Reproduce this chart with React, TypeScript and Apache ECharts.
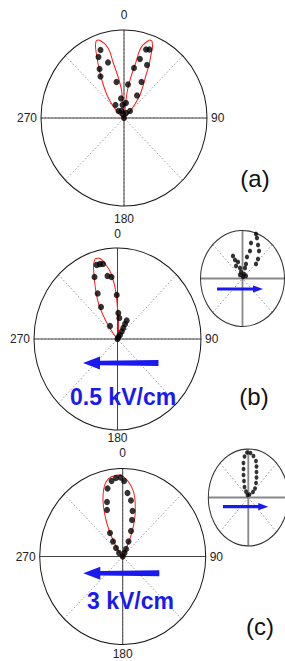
import React, { useEffect, useRef } from "react";
import * as echarts from "echarts";

// ---------- data: [radius (0..1), angle (deg, clockwise from top)] ----------
const ANGLE_TICK_LABELS = ["0", "90", "180", "270"];

const A_DOTS = [
  [0.823, 339.9], [0.758, 336.1], [0.66, 343.0], [0.63, 332.1], [0.55, 329.0], [0.419, 347.5],
  [0.225, 350.7], [0.18, 325.3], [0.149, 353.0], [0.104, 320.2], [0.085, 339.3], [0.047, 345],
  [0.822, 18.8], [0.837, 21.5], [0.698, 16.0], [0.663, 24.7], [0.581, 12.0], [0.46, 27.3],
  [0.384, 7.2], [0.3, 31.5], [0.172, 8.0], [0.108, 42.3], [0.062, 23], [0, 0],
];
const A_FIT_LEFT = [
  [0.938, 338.9], [0.887, 337.2], [0.789, 335.2], [0.677, 332.8], [0.565, 329.9], [0.45, 326.4],
  [0.332, 321.9], [0.217, 317.0], [0.133, 313.3], [0.059, 305.3], [0, 330], [0.091, 356.2],
  [0.205, 354.9], [0.32, 354.6], [0.436, 352.1], [0.531, 350.2], [0.65, 348.2], [0.769, 347.3],
  [0.857, 345.3], [0.918, 342.4], [0.94, 340.5], [0.938, 338.9],
];
const A_FIT_RIGHT = [
  [0.938, 21.1], [0.887, 22.8], [0.786, 24.4], [0.673, 26.6], [0.556, 28.5], [0.441, 31.8],
  [0.325, 36.4], [0.207, 39.8], [0.124, 42.8], [0.05, 46.6], [0, 30], [0.092, 7.5],
  [0.206, 6.7], [0.321, 7.6], [0.438, 9.5], [0.533, 11.1], [0.653, 12.8], [0.772, 13.5],
  [0.861, 15.4], [0.922, 18.3], [0.94, 19.5], [0.938, 21.1],
];

const B_DOTS = [
  [0.851, 343.0], [0.85, 345.7], [0.842, 348.1], [0.735, 338.0], [0.703, 350.2], [0.685, 354.0],
  [0.553, 334.6], [0.484, 358.9], [0.403, 330.7], [0.286, 1.9], [0.232, 5.3], [0.231, 28.5],
  [0.188, 28.6], [0.169, 327.9], [0.139, 29.9], [0.097, 31.4], [0.053, 34.3], [0.024, 23.6], [0, 0],
];
const B_FIT = [
  [0.92, 343.0], [0.863, 340.5], [0.758, 338.2], [0.652, 335.6], [0.545, 332.5], [0.434, 329.3],
  [0.316, 326.6], [0.191, 323.5], [0.085, 320.7], [0, 0], [0.1, 6.9], [0.209, 3.3],
  [0.341, 0], [0.451, 358.5], [0.572, 357.0], [0.673, 354.9], [0.753, 353.1], [0.825, 350.4],
  [0.888, 347.9], [0.919, 345.7], [0.92, 343.0],
];
const B_INSET_DOTS = [
  [0.981, 19.1], [0.912, 22.2], [0.767, 15.3], [0.79, 27.9], [0.6, 17.3], [0.695, 34.4],
  [0.461, 13.4], [0.549, 42.2], [0.441, 46.8], [0.313, 15.4], [0.521, 334.2], [0.425, 335.1],
  [0.36, 342.7], [0.303, 329.3], [0.227, 344.8], [0.227, 15.2], [0.14, 345.2], [0.1, 20.8],
  [0.094, 320.8], [0.034, 20.8], [0.098, 58],
];

const C_DOTS = [
  [0.869, 351.1], [0.896, 354.8], [0.898, 358.3], [0.858, 1.1], [0.794, 346.7], [0.724, 4.6],
  [0.648, 343.0], [0.644, 8.9], [0.561, 340.3], [0.53, 12.9], [0.43, 15.1], [0.308, 330.2],
  [0.307, 19.0], [0.207, 325.6], [0.184, 22.3], [0.126, 320.1], [0.094, 25.0], [0.06, 312],
  [0.045, 28.6], [0, 0],
];
const C_FIT = [
  [0.929, 355.8], [0.914, 351.1], [0.87, 346.6], [0.79, 343.0], [0.685, 339.7], [0.574, 336.9],
  [0.461, 334.1], [0.343, 331.3], [0.221, 328.1], [0.106, 323.7], [0, 0], [0.094, 25.0],
  [0.205, 23.6], [0.323, 21.4], [0.439, 18.9], [0.55, 16.0], [0.659, 13.0], [0.745, 10.1],
  [0.818, 6.6], [0.882, 2.6], [0.921, 359.1], [0.929, 355.8],
];
const C_INSET_DOTS = [
  [0.928, 358], [0.919, 3.4], [0.866, 8.6], [0.851, 353.6], [0.721, 350.4], [0.6, 348.5],
  [0.479, 345.5], [0.357, 342.5], [0.236, 336.3], [0.777, 14.3], [0.671, 17.8], [0.564, 21.3],
  [0.461, 26.4], [0.356, 32.8], [0.25, 42.1], [0.163, 46.0], [0.136, 335.1], [0.055, 338.8],
  [0.069, 25.9],
];

const PANEL_LABELS = ["(a)", "(b)", "(c)"];
const FIELD_LABELS = ["0.5 kV/cm", "3 kV/cm"];

// ---------- layout ----------
const W = 285;
const H = 661;
const FONT = '"Liberation Sans", Arial, sans-serif';
const BLUE = "#1a1af0";
const LABEL_KEYS = ["t", "r", "b", "l"];

type PanelCfg = {
  cx: number; cy: number; rx: number; ry: number;
  labels: boolean; lhTop: number; lhBottom: number;
  crossColor: string; crossWidth: number; circleColor: string;
  dotSize: number; dots: number[][]; fits: number[][][];
};

const PANELS: PanelCfg[] = [
  { cx: 124, cy: 118, rx: 83, ry: 88, labels: true, lhTop: 20, lhBottom: 16.5, crossColor: "#444", crossWidth: 1, circleColor: "#1a1a1a", dotSize: 6, dots: A_DOTS, fits: [A_FIT_LEFT, A_FIT_RIGHT] },
  { cx: 117.5, cy: 339, rx: 83.5, ry: 91, labels: true, lhTop: 18.6, lhBottom: 6.7, crossColor: "#444", crossWidth: 1, circleColor: "#1a1a1a", dotSize: 6, dots: B_DOTS, fits: [B_FIT] },
  { cx: 122.7, cy: 556.5, rx: 83, ry: 88, labels: true, lhTop: 21, lhBottom: 9, crossColor: "#444", crossWidth: 1, circleColor: "#1a1a1a", dotSize: 6, dots: C_DOTS, fits: [C_FIT] },
  { cx: 242.5, cy: 278.5, rx: 42, ry: 48, labels: false, lhTop: 14, lhBottom: 14, crossColor: "#888", crossWidth: 1.8, circleColor: "#333", dotSize: 4.2, dots: B_INSET_DOTS, fits: [] },
  { cx: 248.3, cy: 497.5, rx: 40, ry: 48.5, labels: false, lhTop: 14, lhBottom: 14, crossColor: "#888", crossWidth: 1.8, circleColor: "#333", dotSize: 3.8, dots: C_INSET_DOTS, fits: [] },
];

function hiddenRadius(polarIndex: number) {
  return {
    polarIndex, type: "value", min: 0, max: 1,
    axisLine: { show: false }, axisTick: { show: false }, axisLabel: { show: false },
    splitLine: { show: false }, splitArea: { show: false },
  };
}

function panelOption(p: PanelCfg) {
  const series: any[] = [];
  p.fits.forEach((f) => {
    series.push({
      type: "line", coordinateSystem: "polar", polarIndex: 1, data: f,
      showSymbol: false, symbol: "none", smooth: 0.2,
      lineStyle: { color: "#ff1a1a", width: 1 }, z: 3,
    });
  });
  series.push({
    type: "scatter", coordinateSystem: "polar", polarIndex: 1, data: p.dots,
    symbol: "circle", symbolSize: p.dotSize, itemStyle: { color: "#000" }, z: 4,
  });
  const tok = (lh: number) => ({ fontSize: 12, fontFamily: FONT, color: "#222", lineHeight: lh });
  return {
    animation: false,
    polar: [
      { center: [p.cx, p.cy], radius: p.rx },
      { center: [p.cx, p.cy], radius: p.rx },
    ],
    angleAxis: [
      {
        polarIndex: 0, type: "value", min: 0, max: 360, interval: 45, startAngle: 90, clockwise: true,
        axisLine: { show: false }, axisTick: { show: false }, axisLabel: { show: false },
        splitLine: { show: true, lineStyle: { color: "#8a8a8a", width: 0.8, type: [1.5, 2] } },
      },
      {
        polarIndex: 1, type: "value", min: 0, max: 360, interval: 90, startAngle: 90, clockwise: true,
        axisLine: { show: true, lineStyle: { color: p.circleColor, width: 1 } },
        axisTick: { show: false },
        axisLabel: {
          show: p.labels, margin: 4, color: "#222", fontSize: 12, fontFamily: FONT,
          formatter: (v: number) => {
            if (v >= 360) return "";
            const i = Math.round(v / 90);
            return `{${LABEL_KEYS[i]}|${ANGLE_TICK_LABELS[i]}}`;
          },
          rich: { t: tok(p.lhTop), b: tok(p.lhBottom), r: tok(14), l: tok(14) },
        },
        splitLine: { show: true, lineStyle: { color: p.crossColor, width: p.crossWidth } },
      },
    ],
    radiusAxis: [hiddenRadius(0), hiddenRadius(1)],
    series,
  };
}

function arrowLeft(tipX: number, y: number, tailX: number, headLen: number, headHalf: number, shaftHead: number, shaftTail: number) {
  const hx = tipX + headLen;
  return [
    [tipX, y], [hx, y - headHalf], [hx, y - shaftHead], [tailX, y - shaftTail],
    [tailX, y + shaftTail], [hx, y + shaftHead], [hx, y + headHalf],
  ];
}
function arrowRight(tailX: number, y: number, tipX: number, headLen: number, headHalf: number, shaft: number) {
  const hx = tipX - headLen;
  return [
    [tipX, y], [hx, y - headHalf], [hx, y - shaft], [tailX, y - shaft],
    [tailX, y + shaft], [hx, y + shaft], [hx, y + headHalf],
  ];
}

const overlayOption = {
  animation: false,
  graphic: [
    { type: "text", x: 255, y: 178.5, style: { text: PANEL_LABELS[0], font: `24px ${FONT}`, fill: "#111", align: "center", verticalAlign: "middle" } },
    { type: "text", x: 254, y: 396.7, style: { text: PANEL_LABELS[1], font: `24px ${FONT}`, fill: "#111", align: "center", verticalAlign: "middle" } },
    { type: "text", x: 260, y: 626, style: { text: PANEL_LABELS[2], font: `24px ${FONT}`, fill: "#111", align: "center", verticalAlign: "middle" } },
    { type: "text", x: 70, y: 397, style: { text: FIELD_LABELS[0], font: `bold 23px ${FONT}`, fill: BLUE, align: "left", verticalAlign: "middle" } },
    { type: "text", x: 87, y: 601, style: { text: FIELD_LABELS[1], font: `bold 23px ${FONT}`, fill: BLUE, align: "left", verticalAlign: "middle" } },
    { type: "polygon", shape: { points: arrowLeft(83, 363, 158.5, 17, 6.5, 2.3, 3) }, style: { fill: BLUE } },
    { type: "polygon", shape: { points: arrowLeft(83.3, 573.3, 159.3, 17, 6.5, 2.3, 3) }, style: { fill: BLUE } },
    { type: "polygon", shape: { points: arrowRight(217, 289, 263, 10, 3.6, 1.6) }, style: { fill: BLUE } },
    { type: "polygon", shape: { points: arrowRight(223, 506.7, 268.3, 10, 3.6, 1.6) }, style: { fill: BLUE } },
  ],
};

function EChart({ option, style }: { option: any; style: React.CSSProperties }) {
  const ref = useRef<HTMLDivElement>(null);
  useEffect(() => {
    if (!ref.current) return;
    const chart = echarts.init(ref.current, null, { renderer: "svg" });
    chart.setOption(option);
    return () => chart.dispose();
  }, [option]);
  return <div ref={ref} style={style} />;
}

const PANEL_OPTIONS = PANELS.map(panelOption);

export default function App() {
  return (
    <div style={{ position: "fixed", left: 0, top: 0, width: W, height: H, overflow: "hidden", background: "#fff" }}>
      {PANELS.map((p, i) => (
        <EChart
          key={i}
          option={PANEL_OPTIONS[i]}
          style={{
            position: "absolute", left: 0, top: 0, width: W, height: H,
            transform: `scaleY(${p.ry / p.rx})`, transformOrigin: `${p.cx}px ${p.cy}px`,
          }}
        />
      ))}
      <EChart option={overlayOption} style={{ position: "absolute", left: 0, top: 0, width: W, height: H }} />
    </div>
  );
}
